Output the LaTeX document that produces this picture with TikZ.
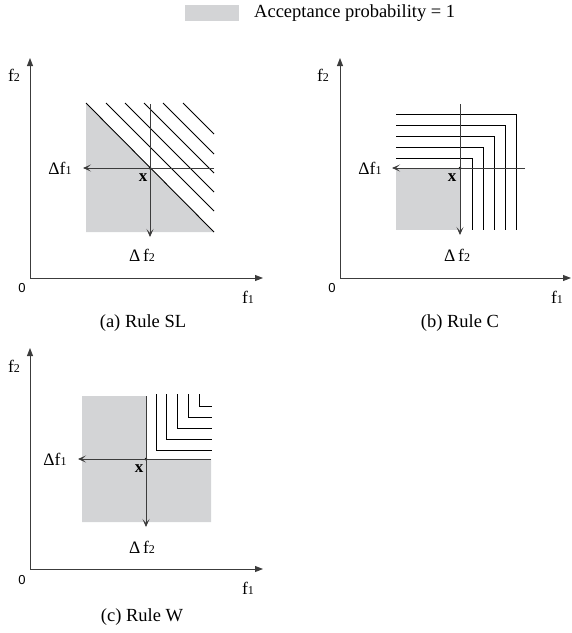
\documentclass[tikz,border=0pt]{standalone}
\usepackage{fontspec}
\setmainfont{Liberation Serif}
\newfontfamily\zerofont{Liberation Sans}
\usetikzlibrary{arrows.meta}
\definecolor{accgray}{RGB}{211,212,214}
\definecolor{axgray}{RGB}{60,60,60}
\newcommand{\sm}[1]{{\fontsize{12}{12}\selectfont #1}}
\tikzset{
  axis/.style={draw=axgray, line width=0.9pt, -{Triangle[length=8pt,width=6pt]}},
  delta/.style={draw=axgray, line width=0.9pt, -{Stealth[length=8pt,width=7pt,inset=4pt]}},
  ruleline/.style={draw=black, line width=0.9pt},
  region/.style={fill=accgray, draw=none},
  lbl/.style={inner sep=0pt, font=\fontsize{17.5}{20}\selectfont},
  zerolbl/.style={inner sep=0pt, font=\zerofont\fontsize{13}{15}\selectfont},
  xlbl/.style={inner sep=0pt, font=\bfseries\fontsize{17}{20}\selectfont},
  caption/.style={inner sep=0pt, font=\fontsize{18.5}{22}\selectfont},
  dot/.style={circle, fill=black, inner sep=0pt, minimum size=3pt}
}
\begin{document}
\begin{tikzpicture}[x=1pt,y=-1pt]
\useasboundingbox (0,0) rectangle (572,633);

% Legend
\fill[accgray] (185,5) rectangle (239,21);
\node[caption, anchor=west] (leg) at (254,13) {Acceptance probability = 1};

% ===== Panel (a) =====
\coordinate (aO) at (30,278);
\coordinate (aY) at (30,58);
\coordinate (aX) at (263,278);
\fill[accgray] (86,103) -- (86,232) -- (214,232) -- cycle;
\draw[ruleline] (86,103) -- (214,232);
\foreach \s in {106,125,144,163,183}{
  \draw[ruleline] (\s,103) -- (214,{103+214-\s});
}
\coordinate (aT) at (150,104);
\coordinate (aB) at (150,237);
\coordinate (aR) at (214,168);
\coordinate (aL) at (83,168);
\node[dot] (ax) at (150,168) {};
\draw[delta] (aT) -- (aB);
\draw[delta] (aR) -- (aL);
\draw[axis] (aO) -- (aY);
\draw[axis] (aO) -- (aX);
\node[lbl] (adf1) at (60,168) {Δf\sm{1}};
\node[lbl] (adf2) at (142,255) {Δ\,f\sm{2}};
\node[xlbl] (axl) at (143,178) {x};
\node[lbl] (af2) at (14,75) {f\sm{2}};
\node[zerolbl] (a0) at (22,288) {0};
\node[lbl] (af1) at (248,297) {f\sm{1}};
\node[caption] (acap) at (143,323) {(a) Rule SL};

% ===== Panel (b) =====
\coordinate (bO) at (340,278);
\coordinate (bY) at (340,58);
\coordinate (bX) at (571,278);
\fill[accgray] (396,168) rectangle (460,230);
\foreach \cx/\cy in {472/158,483/147,494/136,505/125,516/114}{
  \draw[ruleline] (396,\cy) -- (\cx,\cy) -- (\cx,230);
}
\coordinate (bT) at (460,104);
\coordinate (bB) at (460,235);
\coordinate (bR) at (525,168);
\coordinate (bL) at (392,168);
\node[dot] (bx) at (460,168) {};
\draw[delta] (bT) -- (bB);
\draw[delta] (bR) -- (bL);
\draw[axis] (bO) -- (bY);
\draw[axis] (bO) -- (bX);
\node[lbl] (bdf1) at (370,168) {Δf\sm{1}};
\node[lbl] (bdf2) at (457,255) {Δ\,f\sm{2}};
\node[xlbl] (bxl) at (452,178) {x};
\node[lbl] (bf2) at (323,75) {f\sm{2}};
\node[zerolbl] (b0) at (332,288) {0};
\node[lbl] (bf1) at (557,297) {f\sm{1}};
\node[caption] (bcap) at (460,323) {(b) Rule C};

% ===== Panel (c) =====
\coordinate (cO) at (30,569);
\coordinate (cY) at (30,348);
\coordinate (cX) at (263,569);
\fill[accgray] (82,396) -- (146,396) -- (146,459) -- (211,459) -- (211,522) -- (82,522) -- cycle;
\foreach \cx/\cy in {156/450,166.7/439.3,177.3/428.7,188.7/417.3,199.3/406}{
  \draw[ruleline] (\cx,394.3) -- (\cx,\cy) -- (212.3,\cy);
}
\coordinate (cT) at (146,396);
\coordinate (cB) at (146,527);
\coordinate (cR) at (211,459);
\coordinate (cL) at (78,459);
\node[dot] (cx) at (146,459) {};
\draw[delta] (cT) -- (cB);
\draw[delta] (cR) -- (cL);
\draw[axis] (cO) -- (cY);
\draw[axis] (cO) -- (cX);
\node[lbl] (cdf1) at (55,459) {Δf\sm{1}};
\node[lbl] (cdf2) at (142,547) {Δ\,f\sm{2}};
\node[xlbl] (cxl) at (139,469) {x};
\node[lbl] (cf2) at (14,366) {f\sm{2}};
\node[zerolbl] (c0) at (22,580) {0};
\node[lbl] (cf1) at (248,588) {f\sm{1}};
\node[caption] (ccap) at (142,617) {(c) Rule W};
\end{tikzpicture}
\end{document}
